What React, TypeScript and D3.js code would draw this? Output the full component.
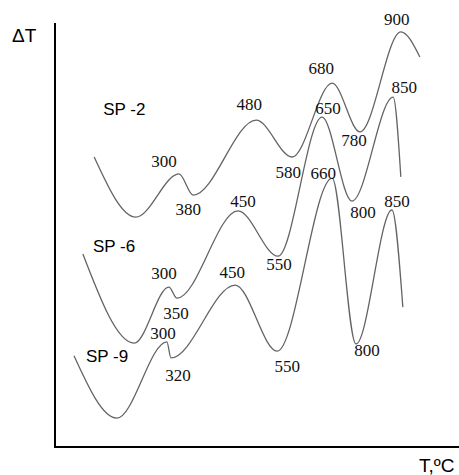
import React from 'react';
import * as d3 from 'd3';

// curve points in arbitrary units (x: 0-100 along T, y: 0-100 along ΔT)
const sp2X = [9.7, 20.0, 30.7, 34.2, 49.8, 58.7, 68.6, 75.5, 85.6, 90.3];
const sp2Y = [68.4, 54.2, 64.4, 59.4, 77.1, 68.4, 85.8, 74.3, 97.9, 92.0];
const sp2Labels = ['', '', '300', '380', '480', '580', '680', '780', '900', ''];

const sp6X = [6.9, 19.6, 28.2, 30.2, 45.3, 55.2, 66.1, 73.5, 83.7, 85.6];
const sp6Y = [45.5, 24.5, 37.7, 35.1, 55.7, 45.0, 77.8, 58.0, 82.5, 63.7];
const sp6Labels = ['', '', '300', '350', '450', '550', '650', '800', '850', ''];

const sp9X = [4.7, 15.3, 27.7, 28.7, 44.6, 55.0, 68.6, 74.5, 83.4, 86.1];
const sp9Y = [21.5, 6.8, 24.8, 21.0, 38.2, 22.6, 63.4, 24.3, 55.9, 33.0];
const sp9Labels = ['', '', '300', '320', '450', '550', '660', '800', '850', ''];

const seriesNames = ['SP -2', 'SP -6', 'SP -9'];

// label offsets in px, relative to the point they belong to
const sp2Offsets = [[0, 0], [0, 0], [-15, -12], [-5, 14], [-7, -16], [-4, 16], [-11, -15], [-6, 9], [-4, -12], [0, 0]];
const sp6Offsets = [[0, 0], [0, 0], [-5, -14], [-1, 15], [5, -9], [1, 8], [6, -9], [11, 11], [11, -10], [0, 0]];
const sp9Offsets = [[0, 0], [0, 0], [-4, -8], [7, 18], [-3, -13], [10, 15], [-9, -5], [11, 7], [5, -8], [0, 0]];
const nameOffsets = [[9, -47], [10, -8], [12, 1]];

const W = 459;
const H = 475;
const serif = "'Liberation Serif', 'Times New Roman', serif";
const sans = "'Liberation Sans', Arial, sans-serif";

export default function App() {
  const x = d3.scaleLinear().domain([0, 100]).range([55, 459]);
  const y = d3.scaleLinear().domain([0, 100]).range([447, 23]);

  const series = [
    { xs: sp2X, ys: sp2Y, labels: sp2Labels, offs: sp2Offsets },
    { xs: sp6X, ys: sp6Y, labels: sp6Labels, offs: sp6Offsets },
    { xs: sp9X, ys: sp9Y, labels: sp9Labels, offs: sp9Offsets },
  ];

  const line = d3.line<[number, number]>()
    .x(d => x(d[0]))
    .y(d => y(d[1]))
    .curve(d3.curveMonotoneX);

  return (
    <svg width={W} height={H} style={{ position: 'absolute', left: 0, top: 0, background: '#fff' }}>
      {/* axes */}
      <line x1={55} y1={23} x2={55} y2={448} stroke="#000" strokeWidth={2} />
      <line x1={54} y1={447} x2={459} y2={447} stroke="#000" strokeWidth={2} />
      <text x={12} y={42} fontFamily={sans} fontSize={19} fill="#000">ΔT</text>
      <text x={419} y={472} fontFamily={sans} fontSize={19} fill="#000">T,ºC</text>

      {series.map((s, i) => {
        const pts = s.xs.map((v, j) => [v, s.ys[j]] as [number, number]);
        return (
          <g key={i}>
            <path d={line(pts) || ''} fill="none" stroke="#646464" strokeWidth={1.3} />
            {s.labels.map((lab, j) => lab ? (
              <text key={j}
                x={x(s.xs[j]) + s.offs[j][0]}
                y={y(s.ys[j]) + s.offs[j][1]}
                textAnchor="middle" dominantBaseline="central"
                fontFamily={serif} fontSize={17} fill="#111">
                {lab}
              </text>
            ) : null)}
            <text x={x(s.xs[0]) + nameOffsets[i][0]} y={y(s.ys[0]) + nameOffsets[i][1]}
              dominantBaseline="central"
              fontFamily={sans} fontSize={17} fill="#000">
              {seriesNames[i]}
            </text>
          </g>
        );
      })}
    </svg>
  );
}
